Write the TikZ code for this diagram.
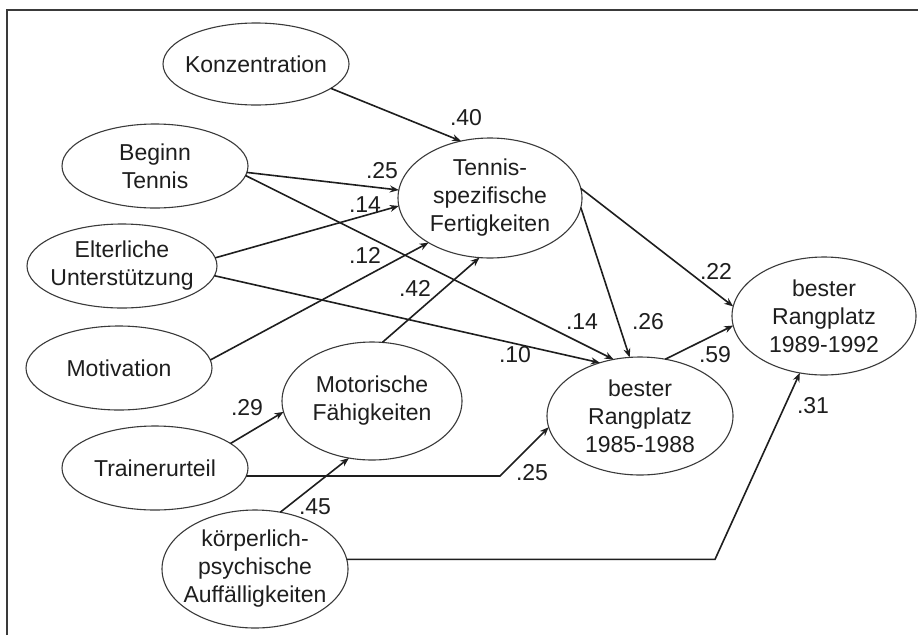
\documentclass[tikz,border=0pt]{standalone}
\usepackage{fontspec}
\setmainfont{Liberation Sans}
\usetikzlibrary{shapes.geometric,arrows.meta}
\definecolor{ink}{HTML}{1E1E1E}
\definecolor{rim}{HTML}{3A3A3A}
\begin{document}
\begin{tikzpicture}[x=1pt,y=-1pt,
  var/.style={ellipse, draw=rim, line width=1.1pt, inner sep=0pt, outer sep=0pt},
  txt/.style={align=center, font=\fontsize{23}{28}\selectfont, text=ink, inner sep=0pt},
  link/.style={draw=ink, line width=1.6pt, -{Stealth[length=9pt,width=7pt]}},
  coef/.style={font=\fontsize{23}{28}\selectfont, text=ink, inner sep=0pt}]

\useasboundingbox (0,0) rectangle (918,635);
\fill[white] (0,0) rectangle (918,635);
% open frame: top and left edges only
\draw[rim, line width=1.4pt] (7,635) -- (7,10) -- (918,10);

% latent and manifest variables
\node[var, minimum width=186pt, minimum height=82pt, label={[txt]center:Konzentration}] (kon) at (256,64) {};
\node[var, minimum width=186pt, minimum height=84pt, label={[txt]center:Beginn\\Tennis}] (beg) at (155,166) {};
\node[var, minimum width=190pt, minimum height=84pt, label={[txt]center:Elterliche\\Unterstützung}] (elt) at (122,266) {};
\node[var, minimum width=184pt, minimum height=120pt, label={[txt]center:Tennis-\\spezifische\\Fertigkeiten}] (ten) at (490,198) {};
\node[var, minimum width=186pt, minimum height=84pt, label={[txt]center:Motivation}] (mot) at (119,368) {};
\node[var, minimum width=180pt, minimum height=118pt, label={[txt]center:Motorische\\Fähigkeiten}] (mof) at (372,401) {};
\node[var, minimum width=186pt, minimum height=84pt, label={[txt]center:Trainerurteil}] (tra) at (155,468) {};
\node[var, minimum width=186pt, minimum height=118pt, label={[txt]center:körperlich-\\psychische\\Auffälligkeiten}] (kpa) at (255,569) {};
\node[var, minimum width=186pt, minimum height=118pt, label={[txt]center:bester\\Rangplatz\\1985-1988}] (b85) at (640,416) {};
\node[var, minimum width=184pt, minimum height=118pt, label={[txt]center:bester\\Rangplatz\\1989-1992}] (b89) at (824,316) {};

% corners of the elbow connectors
\coordinate (k1) at (500,476);
\coordinate (k2) at (715,560);

% paths
\draw[link] (kon.-18) -- (ten.117);
\draw[link] (beg.-4) -- (ten.175);
\draw[link] (beg.-6) -- (b85.115);
\draw[link] (elt.5) -- (ten.185);
\draw[link] (elt.-6) -- (b85.127);
\draw[link] (mot.5) -- (ten.216);
\draw[link] (mof.80) -- (ten.-100);
\draw[link] (ten.-6) -- (b85.100);
\draw[link] (ten.6) -- (b89.174);
\draw[link] (b85.66) -- (b89.186);
\draw[link] (tra.18) -- (mof.187);
\draw[link] (tra.-5) -- (tra.-5 -| k1) -- (b85.187);
\draw[link] (kpa.66) -- (mof.-112);
\draw[link] (kpa.6) -- (kpa.6 -| k2) -- (b89.-113);

% path coefficients
\node[coef] (c40) at (466,118) {.40};
\node[coef] (c25a) at (382,171) {.25};
\node[coef] (c14a) at (365,205) {.14};
\node[coef] (c12) at (365,255) {.12};
\node[coef] (c42) at (415,288) {.42};
\node[coef] (c22) at (716,271) {.22};
\node[coef] (c14b) at (582,322) {.14};
\node[coef] (c26) at (648,322) {.26};
\node[coef] (c10) at (515,355) {.10};
\node[coef] (c59) at (715,355) {.59};
\node[coef] (c29) at (247,408) {.29};
\node[coef] (c45) at (315,507) {.45};
\node[coef] (c25b) at (532,473) {.25};
\node[coef] (c31) at (813,406) {.31};
\end{tikzpicture}
\end{document}
